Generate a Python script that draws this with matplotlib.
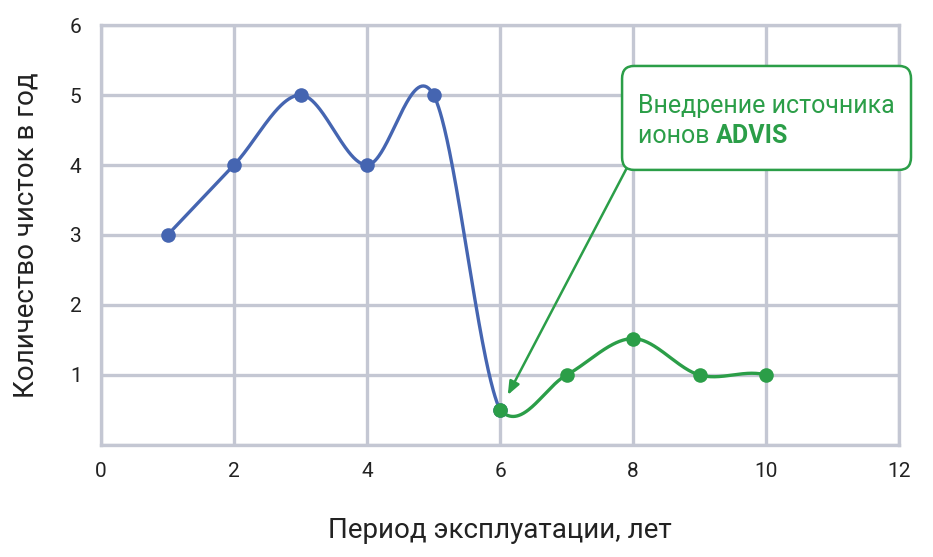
import matplotlib
matplotlib.use("Agg")
import matplotlib.pyplot as plt
import numpy as np
from matplotlib.patches import FancyBboxPatch

plt.rcParams['font.family'] = ['Roboto', 'DejaVu Sans']

# ---- data ----
blue_x = [1, 2, 3, 4, 5, 6]
blue_y = [3, 4, 5, 4, 5, 0.5]
green_x = [6, 7, 8, 9, 10]
green_y = [0.5, 1, 1.52, 1, 1]
x_ticks = [0, 2, 4, 6, 8, 10, 12]
y_ticks = [0, 1, 2, 3, 4, 5, 6]
y_tick_labels = ['', '1', '2', '3', '4', '5', '6']
x_label = 'Период эксплуатации, лет'
y_label = 'Количество чисток в год'
note_line1 = 'Внедрение источника'
note_line2a = 'ионов '
note_line2b = 'ADVIS'

BLUE = '#4565b1'
GREEN = '#2b9e48'
GRID = '#c4c7d3'


def central_tangents(xs, ys):
    xs = np.asarray(xs, float); ys = np.asarray(ys, float)
    m = np.zeros(len(xs))
    for i in range(1, len(xs) - 1):
        m[i] = (ys[i + 1] - ys[i - 1]) / (xs[i + 1] - xs[i - 1])
    return m


def hermite(xs, ys, ms, n=80):
    xs = np.asarray(xs, float); ys = np.asarray(ys, float)
    X, Y = [], []
    for i in range(len(xs) - 1):
        h = xs[i + 1] - xs[i]
        t = np.linspace(0, 1, n)
        h00 = 2 * t**3 - 3 * t**2 + 1
        h10 = t**3 - 2 * t**2 + t
        h01 = -2 * t**3 + 3 * t**2
        h11 = t**3 - t**2
        X.append(xs[i] + t * h)
        Y.append(h00 * ys[i] + h10 * h * ms[i] + h01 * ys[i + 1] + h11 * h * ms[i + 1])
    return np.concatenate(X), np.concatenate(Y)


# tangents
mb = central_tangents(blue_x, blue_y)
mb[0] = mb[1]
mb[-1] = (green_y[1] - blue_y[-2]) / (green_x[1] - blue_x[-2])
mg = central_tangents(green_x, green_y)
mg[-1] = mg[-2]
mg[0] = 0.5 * (green_y[1] - blue_y[-2]) / (green_x[1] - blue_x[-2])

bx, by = hermite(blue_x, blue_y, mb)
gx, gy = hermite(green_x, green_y, mg)

fig = plt.figure(figsize=(9.33, 5.57), dpi=100)
ax = fig.add_axes([0.1083, 0.2011, 0.8553, 0.754])
ax.set_xlim(0, 12)
ax.set_ylim(0, 6)

ax.set_xticks(x_ticks)
ax.set_yticks(y_ticks)
ax.set_yticklabels(y_tick_labels)
ax.tick_params(length=0, labelsize=15, colors='#222222', pad=14)
ax.tick_params(axis='x', pad=12)
ax.grid(True, color=GRID, linewidth=2.4, zorder=0)
for s in ax.spines.values():
    s.set_color(GRID)
    s.set_linewidth(2.4)
    s.set_zorder(0)
ax.set_axisbelow(True)

ax.plot(bx, by, color=BLUE, lw=2.4, zorder=3, solid_capstyle='round')
ax.plot(gx, gy, color=GREEN, lw=2.4, zorder=3, solid_capstyle='round')
ax.plot(blue_x, blue_y, 'o', color=BLUE, ms=10.5, zorder=4, mec='none')
ax.plot(green_x, green_y, 'o', color=GREEN, ms=10.5, zorder=5, mec='none')

ax.set_xlabel(x_label, fontsize=20, color='#222222', labelpad=26)
ax.set_ylabel(y_label, fontsize=20, color='#222222', labelpad=22)

# annotation arrow
ax.annotate('', xy=(6.116, 0.714), xytext=(7.93, 4.0),
            arrowprops=dict(arrowstyle='-|>,head_length=0.8,head_width=0.32',
                            color=GREEN, lw=1.8, shrinkA=0, shrinkB=0),
            zorder=6, annotation_clip=False)

# annotation box
box = FancyBboxPatch((7.835, 3.93), 4.345, 1.485,
                     boxstyle='round,pad=0,rounding_size=0.18',
                     fc='white', ec=GREEN, lw=1.8, zorder=7, clip_on=False,
                     transform=ax.transData)
ax.add_patch(box)

t1 = ax.text(8.075, 4.75, note_line1, fontsize=18, color=GREEN, zorder=8,
             va='baseline', ha='left', clip_on=False)
t2 = ax.text(8.075, 4.32, note_line2a, fontsize=18, color=GREEN, zorder=8,
             va='baseline', ha='left', clip_on=False)
fig.canvas.draw()
r = fig.canvas.get_renderer()
bb = t2.get_window_extent(renderer=r)
xd = ax.transData.inverted().transform((bb.x1, 0))[0]
ax.text(xd, 4.32, note_line2b, fontsize=18, color=GREEN, zorder=8,
        va='baseline', ha='left', fontweight='bold', clip_on=False)

fig.savefig('out.png', dpi=100, facecolor='white')
